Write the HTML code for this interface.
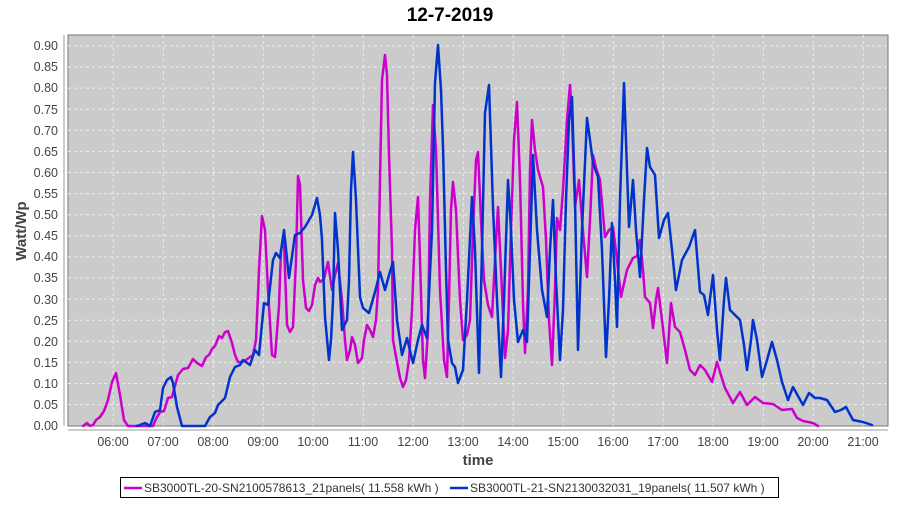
<!DOCTYPE html>
<html><head><meta charset="utf-8"><style>
body{margin:0;background:#fff;}
svg text{font-family:"Liberation Sans",sans-serif;}
</style></head><body>
<svg width="900" height="500" xmlns="http://www.w3.org/2000/svg">
<rect width="900" height="500" fill="#fff"/>
<text x="450" y="21" text-anchor="middle" font-size="19" font-weight="bold" fill="#000">12-7-2019</text>
<rect x="68" y="35" width="820" height="391" fill="#cbcbcb" stroke="#777" stroke-width="1"/>
<g stroke="#eee" stroke-dasharray="3,3" stroke-width="1">
<line x1="68" x2="888" y1="404.6" y2="404.6"/><line x1="68" x2="888" y1="383.5" y2="383.5"/><line x1="68" x2="888" y1="362.4" y2="362.4"/><line x1="68" x2="888" y1="341.3" y2="341.3"/><line x1="68" x2="888" y1="320.2" y2="320.2"/><line x1="68" x2="888" y1="299.1" y2="299.1"/><line x1="68" x2="888" y1="278" y2="278"/><line x1="68" x2="888" y1="256.9" y2="256.9"/><line x1="68" x2="888" y1="235.8" y2="235.8"/><line x1="68" x2="888" y1="214.7" y2="214.7"/><line x1="68" x2="888" y1="193.6" y2="193.6"/><line x1="68" x2="888" y1="172.5" y2="172.5"/><line x1="68" x2="888" y1="151.4" y2="151.4"/><line x1="68" x2="888" y1="130.3" y2="130.3"/><line x1="68" x2="888" y1="109.2" y2="109.2"/><line x1="68" x2="888" y1="88.1" y2="88.1"/><line x1="68" x2="888" y1="67" y2="67"/><line x1="68" x2="888" y1="45.9" y2="45.9"/>
<line y1="35" y2="426" x1="113.3" x2="113.3"/><line y1="35" y2="426" x1="163.3" x2="163.3"/><line y1="35" y2="426" x1="213.3" x2="213.3"/><line y1="35" y2="426" x1="263.3" x2="263.3"/><line y1="35" y2="426" x1="313.3" x2="313.3"/><line y1="35" y2="426" x1="363.3" x2="363.3"/><line y1="35" y2="426" x1="413.3" x2="413.3"/><line y1="35" y2="426" x1="463.3" x2="463.3"/><line y1="35" y2="426" x1="513.3" x2="513.3"/><line y1="35" y2="426" x1="563.3" x2="563.3"/><line y1="35" y2="426" x1="613.3" x2="613.3"/><line y1="35" y2="426" x1="663.3" x2="663.3"/><line y1="35" y2="426" x1="713.3" x2="713.3"/><line y1="35" y2="426" x1="763.3" x2="763.3"/><line y1="35" y2="426" x1="813.3" x2="813.3"/><line y1="35" y2="426" x1="863.3" x2="863.3"/>
</g>
<line x1="64" x2="64" y1="35" y2="426" stroke="#999"/>
<line x1="68" x2="888" y1="430" y2="430" stroke="#999"/>
<g font-size="12.5" fill="#444" text-anchor="end">
<text x="58" y="430">0.00</text><text x="58" y="409">0.05</text><text x="58" y="388">0.10</text><text x="58" y="367">0.15</text><text x="58" y="346">0.20</text><text x="58" y="325">0.25</text><text x="58" y="304">0.30</text><text x="58" y="282">0.35</text><text x="58" y="261">0.40</text><text x="58" y="240">0.45</text><text x="58" y="219">0.50</text><text x="58" y="198">0.55</text><text x="58" y="177">0.60</text><text x="58" y="156">0.65</text><text x="58" y="135">0.70</text><text x="58" y="114">0.75</text><text x="58" y="92">0.80</text><text x="58" y="71">0.85</text><text x="58" y="50">0.90</text>
</g>
<g font-size="12.5" fill="#444" text-anchor="middle">
<text x="113" y="446">06:00</text><text x="163" y="446">07:00</text><text x="213" y="446">08:00</text><text x="263" y="446">09:00</text><text x="313" y="446">10:00</text><text x="363" y="446">11:00</text><text x="413" y="446">12:00</text><text x="463" y="446">13:00</text><text x="513" y="446">14:00</text><text x="563" y="446">15:00</text><text x="613" y="446">16:00</text><text x="663" y="446">17:00</text><text x="713" y="446">18:00</text><text x="763" y="446">19:00</text><text x="813" y="446">20:00</text><text x="863" y="446">21:00</text>
</g>
<text x="478" y="465" text-anchor="middle" font-size="15" font-weight="bold" fill="#444">time</text>
<text transform="translate(26,231) rotate(-90)" text-anchor="middle" font-size="15" font-weight="bold" fill="#444">Watt/Wp</text>
<g fill="none" stroke-width="2.5" stroke-linejoin="round" stroke-linecap="round">
<polyline stroke="#cc00cc" points="83,426 87,423 90,426 93,425 96,420 100,417 104,411 108,400 112,382 116,373 120,395 124,420 128,426 153,426 156,419 160,412 164,411 168,398 172,397 178,375 183,369 188,368 193,359 197,363 202,366 206,357 209,355 212,349 215,346 219,336 222,338 225,332 228,331 232,343 235,355 238,362 242,362 246,360 250,357 253,355 256,340 259,270 262,216 265,230 268,290 272,355 275,357 279,306 281,250 284,240 285,270 287,325 290,332 293,327 296,260 298,176 300,185 303,280 306,308 309,311 312,305 315,285 318,278 320,282 324,279 328,262 332,290 335,275 338,263 342,300 345,340 347,360 350,350 352,337 355,345 358,363 362,358 364,340 367,325 370,330 373,337 376,320 378,290 380,180 382,80 385,55 387,75 389,155 392,250 393,340 397,362 400,378 403,387 406,380 409,360 412,310 415,230 418,197 420,260 423,360 425,378 428,330 430,200 433,105 436,150 440,290 444,360 447,377 449,300 451,210 453,182 456,210 460,300 463,340 467,335 470,320 473,230 476,160 478,152 481,220 484,280 488,305 492,317 495,260 498,207 501,270 505,358 508,330 511,230 514,140 517,102 520,180 523,303 525,353 528,290 530,170 532,120 535,150 538,170 543,187 546,240 549,320 552,365 555,290 557,218 560,230 563,190 567,120 570,85 572,120 575,207 579,180 582,220 587,277 590,220 593,155 596,168 600,180 605,237 609,230 613,227 617,260 621,297 627,270 633,258 637,256 640,240 643,270 645,297 650,303 653,328 656,300 658,288 662,320 667,363 671,303 675,327 680,332 685,350 690,370 695,375 700,365 705,370 712,382 717,362 720,372 725,388 733,403 740,392 747,405 755,397 763,403 773,404 782,410 792,409 797,418 803,421 813,423 818,426"/>
<polyline stroke="#0033cc" points="137,426 145,423 150,426 155,412 160,410 163,388 167,380 171,377 173,383 177,407 182,426 205,426 210,417 215,413 218,405 225,398 230,377 235,367 240,365 243,360 250,365 255,350 259,355 264,303 268,305 273,260 276,253 280,258 284,230 289,278 295,235 300,233 305,227 312,215 317,198 320,215 322,240 325,317 329,360 331,340 333,300 335,213 338,250 342,330 347,320 349,280 351,190 353,152 356,200 360,297 363,308 369,313 375,292 380,272 385,290 389,275 393,262 397,320 402,355 407,338 413,363 418,340 422,325 427,338 432,230 435,83 438,45 441,90 443,147 446,270 448,340 452,363 455,367 458,383 463,370 467,300 472,197 475,250 479,373 482,250 485,113 489,85 493,207 497,300 501,377 504,300 508,180 511,230 514,300 518,342 523,330 527,342 530,250 533,155 537,230 542,290 547,317 550,250 553,200 556,280 560,360 563,310 566,200 569,120 572,97 575,200 578,350 582,230 587,118 590,140 593,163 598,177 602,250 606,357 609,300 612,223 615,280 617,327 620,200 624,83 627,170 629,227 633,180 636,230 640,277 644,200 647,148 650,167 655,175 659,238 664,220 668,213 672,250 676,290 682,260 689,247 695,230 700,292 704,295 708,315 713,275 717,330 720,360 724,300 726,278 730,310 735,315 740,320 744,345 747,370 751,340 753,320 757,340 762,377 767,360 772,342 777,360 782,382 788,400 793,387 803,405 809,393 815,398 820,398 827,400 835,412 841,410 846,407 853,420 863,422 872,425"/>
</g>
<rect x="120.5" y="477.5" width="658" height="20" fill="#fff" stroke="#000" stroke-width="1"/>
<line x1="124" x2="142" y1="488" y2="488" stroke="#cc00cc" stroke-width="2.5"/>
<text x="144" y="492" font-size="12" fill="#333">SB3000TL-20-SN2100578613_21panels( 11.558 kWh )</text>
<line x1="450" x2="468" y1="488" y2="488" stroke="#0033cc" stroke-width="2.5"/>
<text x="470" y="492" font-size="12" fill="#333">SB3000TL-21-SN2130032031_19panels( 11.507 kWh )</text>
</svg>
</body></html>
